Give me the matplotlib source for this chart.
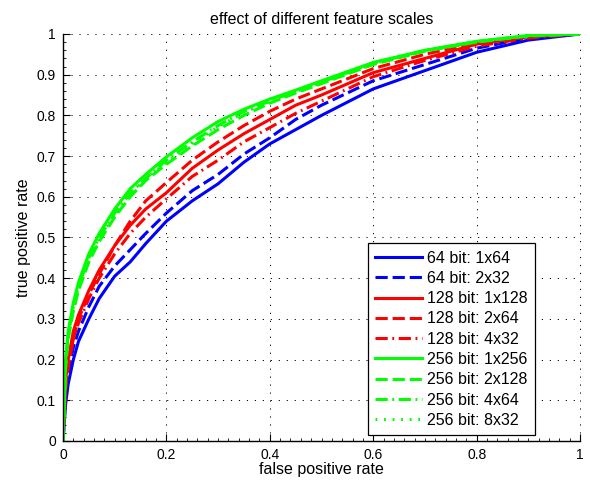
import numpy as np
import matplotlib
matplotlib.use("Agg")
import matplotlib.pyplot as plt
from matplotlib.ticker import MultipleLocator

plt.rcParams['font.family'] = ['Liberation Sans', 'DejaVu Sans']
plt.rcParams['font.size'] = 11.5

# false positive rate samples (shared by all curves)
fpr = [0, 0.005, 0.01, 0.02, 0.03, 0.05, 0.07, 0.1, 0.13, 0.16, 0.2, 0.25,
       0.3, 0.35, 0.4, 0.45, 0.5, 0.6, 0.7, 0.8, 0.9, 1.0]

# true positive rates
tpr_64_1x64 = [0, 0.09, 0.14, 0.20, 0.245, 0.30, 0.35, 0.405, 0.44, 0.485, 0.54, 0.59,
               0.632, 0.685, 0.73, 0.765, 0.80, 0.865, 0.91, 0.955, 0.985, 1]
tpr_64_2x32 = [0, 0.11, 0.17, 0.23, 0.27, 0.33, 0.38, 0.43, 0.47, 0.51, 0.56, 0.615,
               0.655, 0.705, 0.745, 0.79, 0.825, 0.885, 0.925, 0.965, 0.99, 1]
tpr_128_1x128 = [0, 0.15, 0.20, 0.27, 0.31, 0.37, 0.42, 0.48, 0.53, 0.57, 0.61, 0.67,
                 0.715, 0.755, 0.79, 0.825, 0.85, 0.905, 0.94, 0.975, 0.993, 1]
tpr_128_2x64 = [0, 0.13, 0.18, 0.25, 0.30, 0.36, 0.41, 0.48, 0.54, 0.59, 0.635, 0.69,
                0.735, 0.775, 0.81, 0.84, 0.865, 0.915, 0.95, 0.978, 0.994, 1]
tpr_128_4x32 = [0, 0.13, 0.19, 0.25, 0.29, 0.35, 0.40, 0.46, 0.51, 0.55, 0.595, 0.65,
                0.69, 0.735, 0.77, 0.805, 0.835, 0.895, 0.935, 0.97, 0.99, 1]
tpr_256_1x256 = [0, 0.20, 0.27, 0.34, 0.39, 0.46, 0.51, 0.57, 0.62, 0.655, 0.698, 0.745,
                 0.785, 0.815, 0.84, 0.862, 0.885, 0.93, 0.96, 0.982, 0.996, 1]
tpr_256_2x128 = [0, 0.18, 0.25, 0.32, 0.37, 0.44, 0.49, 0.55, 0.60, 0.64, 0.68, 0.725,
                 0.765, 0.80, 0.83, 0.855, 0.878, 0.925, 0.958, 0.98, 0.995, 1]
tpr_256_4x64 = [0, 0.19, 0.26, 0.33, 0.38, 0.45, 0.50, 0.56, 0.61, 0.645, 0.69, 0.735,
                0.775, 0.81, 0.835, 0.86, 0.882, 0.928, 0.959, 0.981, 0.996, 1]
tpr_256_8x32 = [0, 0.19, 0.26, 0.33, 0.38, 0.45, 0.50, 0.555, 0.605, 0.645, 0.685, 0.73,
                0.772, 0.807, 0.834, 0.858, 0.88, 0.927, 0.958, 0.981, 0.996, 1]

labels = ["64 bit: 1x64", "64 bit: 2x32", "128 bit: 1x128", "128 bit: 2x64",
          "128 bit: 4x32", "256 bit: 1x256", "256 bit: 2x128", "256 bit: 4x64",
          "256 bit: 8x32"]

dash = (0, (4, 1.6))
dashdot = (0, (4, 1.5, 0.6, 1.5))
dotted = (0, (0.6, 2.2))

curves = [
    (tpr_64_1x64, (0, 0, 1), '-'),
    (tpr_64_2x32, (0, 0, 1), dash),
    (tpr_128_1x128, (1, 0, 0), '-'),
    (tpr_128_2x64, (1, 0, 0), dash),
    (tpr_128_4x32, (1, 0, 0), dashdot),
    (tpr_256_1x256, (0, 1, 0), '-'),
    (tpr_256_2x128, (0, 1, 0), dash),
    (tpr_256_4x64, (0, 1, 0), dashdot),
    (tpr_256_8x32, (0, 1, 0), dotted),
]

fig = plt.figure(figsize=(5.9, 4.82), dpi=100)
ax = fig.add_axes([0.1068, 0.0851, 0.8763, 0.8444])

for (tpr, col, ls), lab in zip(curves, labels):
    ax.plot(fpr, tpr, color=col, linestyle=ls, linewidth=2.2, label=lab)

ax.set_xlim(0, 1)
ax.set_ylim(0, 1)
ax.set_xticks(np.arange(0, 1.01, 0.2))
ax.set_yticks(np.arange(0, 1.01, 0.1))
ax.set_xticklabels(["0", "0.2", "0.4", "0.6", "0.8", "1"])
ax.set_yticklabels(["0", "0.1", "0.2", "0.3", "0.4", "0.5", "0.6", "0.7", "0.8", "0.9", "1"])
ax.xaxis.set_minor_locator(MultipleLocator(0.02))
ax.yaxis.set_minor_locator(MultipleLocator(0.02))
ax.tick_params(which='major', direction='in', length=5, width=0.8, labelsize=10, pad=5)
ax.tick_params(which='minor', direction='in', length=2.5, width=0.6)

# matlab-like: no box, dotted grid also at the top and right limits
ax.spines['top'].set_visible(False)
ax.spines['right'].set_visible(False)
for s in ['left', 'bottom']:
    ax.spines[s].set_linewidth(1.0)
ax.grid(True, which='major', color='black', linestyle=(0, (1.2, 7.0)), linewidth=0.7)
for gl in ax.get_xgridlines() + ax.get_ygridlines():
    gl.set_clip_on(False)

ax.set_title("effect of different feature scales", fontsize=11.5, pad=7)
ax.set_xlabel("false positive rate", labelpad=0)
ax.set_ylabel("true positive rate", labelpad=4)

leg = ax.legend(loc='lower right', bbox_to_anchor=(0.913, 0.0147), borderaxespad=0,
                fancybox=False, edgecolor='black', framealpha=1, handlelength=2.9,
                labelspacing=0.33, borderpad=0.45, handletextpad=0.35, fontsize=11.5)
leg.get_frame().set_linewidth(0.9)

fig.savefig("out.png", dpi=100)
